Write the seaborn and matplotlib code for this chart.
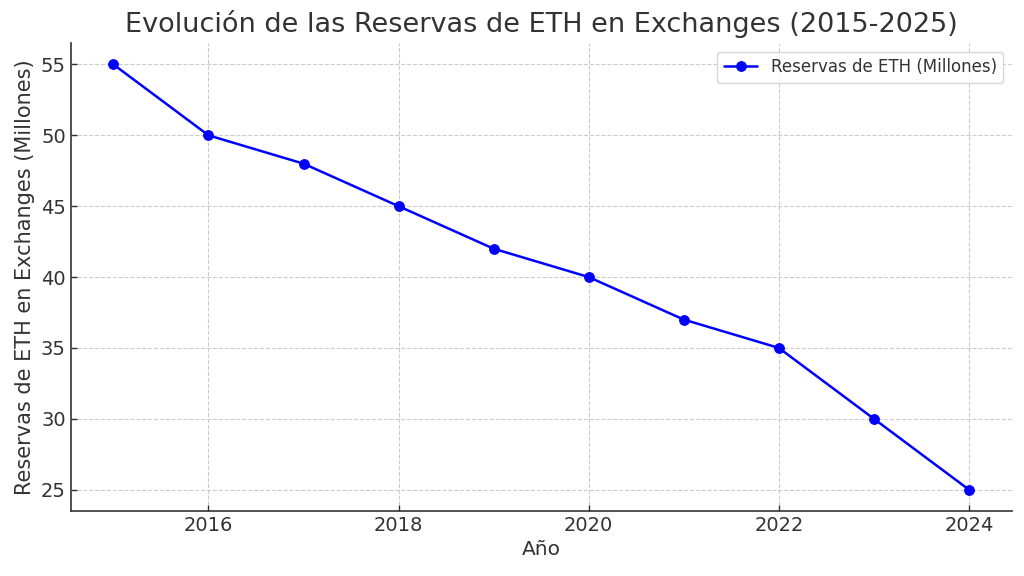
import matplotlib
matplotlib.use("Agg")
import matplotlib.pyplot as plt
import seaborn as sns
import pandas as pd

years = [2015, 2016, 2017, 2018, 2019, 2020, 2021, 2022, 2023, 2024]
reservas = [55, 50, 48, 45, 42, 40, 37, 35, 30, 25]

df = pd.DataFrame({"Año": years, "Reservas": reservas})

sns.set_theme(style="white")
plt.rcParams["font.family"] = ["DejaVu Sans"]
plt.rcParams["text.color"] = "#333333"
plt.rcParams["axes.labelcolor"] = "#333333"
plt.rcParams["xtick.color"] = "#333333"
plt.rcParams["ytick.color"] = "#333333"

fig, ax = plt.subplots(figsize=(10.24, 5.76), dpi=100)

sns.lineplot(data=df, x="Año", y="Reservas", marker="o", color="blue",
             linewidth=1.8, markersize=7, markeredgecolor="blue",
             label="Reservas de ETH (Millones)", ax=ax)

ax.set_title("Evolución de las Reservas de ETH en Exchanges (2015-2025)", fontsize=19.5, pad=8)
ax.set_xlabel("Año", fontsize=14.5)
ax.set_ylabel("Reservas de ETH en Exchanges (Millones)", fontsize=15)
ax.tick_params(axis="both", labelsize=14, direction="in", length=4, width=1,
               left=True, bottom=True)
ax.set_xticks([2016, 2018, 2020, 2022, 2024])
ax.set_yticks([25, 30, 35, 40, 45, 50, 55])
ax.grid(True, linestyle="--", color="#cccccc", linewidth=0.8)
for s in ["top", "right"]:
    ax.spines[s].set_visible(False)
for s in ["left", "bottom"]:
    ax.spines[s].set_color("#333333")
    ax.spines[s].set_linewidth(1.2)

leg = ax.legend(loc="upper right", fontsize=12)
leg.get_frame().set_edgecolor("#cccccc")

plt.subplots_adjust(left=0.069, right=0.988, top=0.925, bottom=0.113)
fig.savefig("out.png", dpi=100)
